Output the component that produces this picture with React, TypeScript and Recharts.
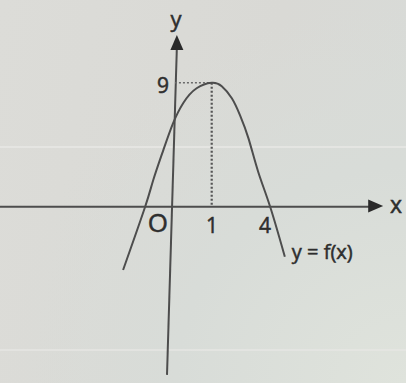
import { LineChart, Line, XAxis, YAxis, ReferenceLine, ReferenceDot } from "recharts";

// Sketch of y = f(x): points (the drawing is not to scale)
const CURVE_X = [-1.29, -0.72, -0.51, -0.25, 0, 0.27, 0.61, 1, 1.26, 1.52, 1.73, 1.95, 2.2, 2.51, 2.89];
const CURVE_Y = [-4.59, 0, 1.94, 4.11, 6.05, 7.55, 8.6, 9, 8.75, 7.87, 6.65, 4.96, 2.54, 0, -3.63];

const VERTEX = { x: 1, y: 9 };
const TICK_TEXT = ["O", "1", "4"];
const Y_TICK_TEXT = "9";
const CURVE_NAME = "y = f(x)";

const data = CURVE_X.map((x, i) => ({ x, y: CURVE_Y[i] }));

const INK = "#4d4d4d";
const TEXT = "#2e2e2e";
const FONT = "'Open Sans', sans-serif";

// where the sketch puts its labels (in chart units) and how big
const TICK_AT = [
  { x: -0.39, y: -1.12, size: 26 },
  { x: 1.01, y: -1.33, size: 21 },
  { x: 2.38, y: -1.29, size: 21 },
];

function Txt(props: any, text: string, size: number, anchor: string = "middle") {
  return (
    <text
      x={props.cx}
      y={props.cy}
      textAnchor={anchor}
      dominantBaseline="central"
      fontFamily={FONT}
      fontSize={size}
      fill={TEXT}
      stroke={TEXT}
      strokeWidth={0.5}
    >
      {text}
    </text>
  );
}

function ArrowUp(props: any) {
  const { cx, cy } = props;
  return <polygon points={`${cx},${cy} ${cx - 6.5},${cy + 15} ${cx + 6.5},${cy + 15}`} fill="#2a2a2a" />;
}

function ArrowRight(props: any) {
  const { cx, cy } = props;
  return <polygon points={`${cx},${cy} ${cx - 15},${cy - 6.5} ${cx - 15},${cy + 6.5}`} fill="#2a2a2a" />;
}

export default function App() {
  return (
    <div
      style={{
        position: "absolute",
        left: 0,
        top: 0,
        width: 406,
        height: 383,
        background:
          "radial-gradient(ellipse at 100% 100%, #dfe3dc 0%, #d8dcd8 40%, rgba(217,217,213,0) 70%), linear-gradient(100deg, #dcdcd8 0%, #d9d9d5 60%, #d8dbd8 100%)",
      }}
    >
      <LineChart width={406} height={383} data={data} margin={{ top: 0, right: 0, bottom: 0, left: 0 }}>
        <XAxis type="number" dataKey="x" domain={[-4.47, 6.02]} hide allowDataOverflow />
        <YAxis type="number" domain={[-12.79, 15.0]} hide allowDataOverflow />
        {/* faint ruled lines of the paper */}
        <ReferenceLine y={4.33} stroke="#e9e9e6" strokeWidth={1.5} />
        <ReferenceLine y={-10.4} stroke="#e6e6e3" strokeWidth={1.5} />
        {/* axes */}
        <ReferenceLine
          segment={[
            { x: -4.47, y: 0 },
            { x: 5.1, y: 0 },
          ]}
          stroke={INK}
          strokeWidth={2}
        />
        <ReferenceLine
          segment={[
            { x: -0.155, y: -12.2 },
            { x: 0.1, y: 11.6 },
          ]}
          stroke={INK}
          strokeWidth={2}
        />
        <ReferenceDot x={5.43} y={0.05} r={0} shape={ArrowRight} />
        <ReferenceDot x={0.1} y={12.46} r={0} shape={ArrowUp} />
        {/* guides to the vertex */}
        <ReferenceLine
          segment={[
            { x: 0.05, y: VERTEX.y },
            { x: VERTEX.x, y: VERTEX.y },
          ]}
          stroke="#6a6a6a"
          strokeWidth={1.5}
          strokeDasharray="2 2"
        />
        <ReferenceLine
          segment={[
            { x: VERTEX.x, y: VERTEX.y },
            { x: VERTEX.x, y: 0 },
          ]}
          stroke="#555"
          strokeWidth={2.2}
          strokeDasharray="2 2"
        />
        <Line
          dataKey="y"
          type="natural"
          stroke={INK}
          strokeWidth={2}
          dot={false}
          activeDot={false}
          isAnimationActive={false}
        />
        {TICK_TEXT.map((t, i) => (
          <ReferenceDot
            key={t}
            x={TICK_AT[i].x}
            y={TICK_AT[i].y}
            r={0}
            shape={(p: any) => Txt(p, t, TICK_AT[i].size)}
          />
        ))}
        <ReferenceDot x={-0.26} y={8.8} r={0} shape={(p: any) => Txt(p, Y_TICK_TEXT, 21)} />
        <ReferenceDot x={0.08} y={13.69} r={0} shape={(p: any) => Txt(p, "y", 22)} />
        <ReferenceDot x={5.76} y={0.23} r={0} shape={(p: any) => Txt(p, "x", 23)} />
        <ReferenceDot x={3.07} y={-3.28} r={0} shape={(p: any) => Txt(p, CURVE_NAME, 20, "start")} />
      </LineChart>
    </div>
  );
}
